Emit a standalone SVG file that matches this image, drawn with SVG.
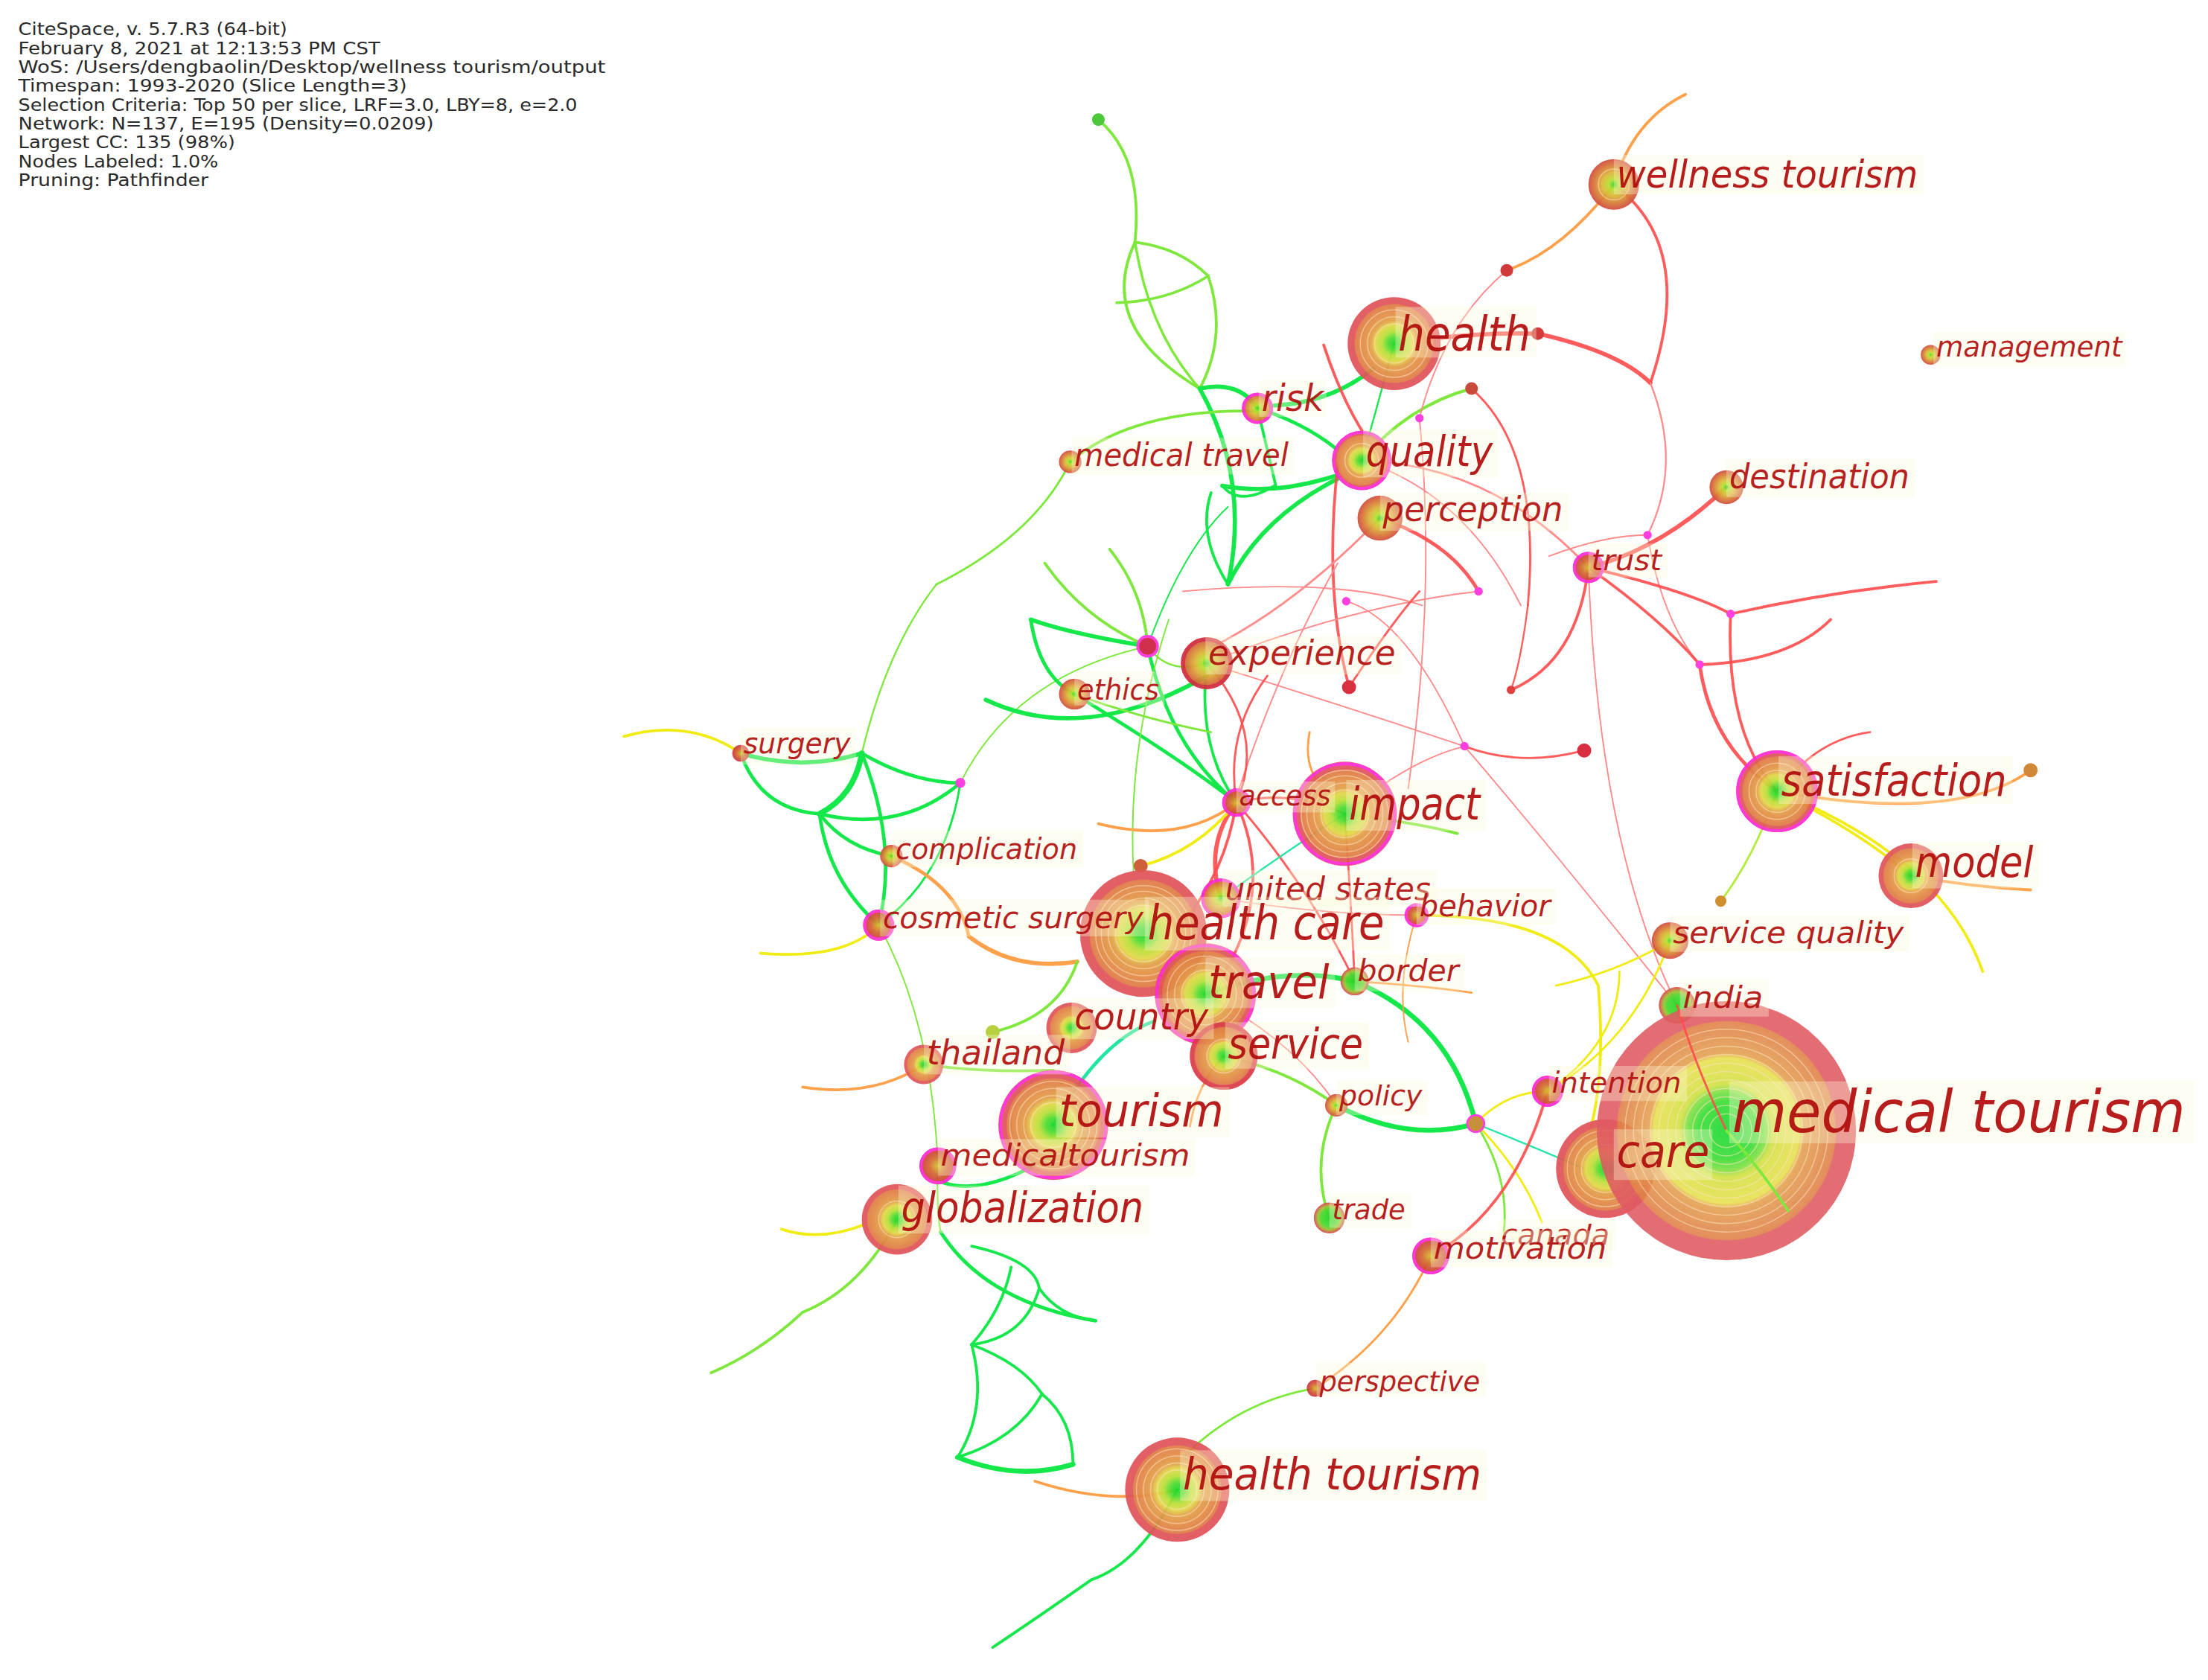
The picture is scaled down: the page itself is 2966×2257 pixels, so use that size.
<svg xmlns="http://www.w3.org/2000/svg" width="2966" height="2257" viewBox="0 0 2966 2257">
<style>
.hd{font-family:"DejaVu Sans Condensed","DejaVu Sans",sans-serif;font-size:12.5px;fill:#2a2a2a}
.lb{font-family:"DejaVu Sans","Liberation Sans",sans-serif;font-style:italic;fill:#b00c0c;fill-opacity:.93}
.bx{fill:#fbf8d6;fill-opacity:.35}
.e{fill:none;stroke-linecap:round}
.g{stroke:#14e84a}.lg{stroke:#7ee83c}.yg{stroke:#b4ec40}.y{stroke:#f0ec14}.o{stroke:#ffa04a}.r{stroke:#ff4b4b;stroke-opacity:.9}.p{stroke:#ff8c8c}.t{stroke:#22e6a0}
.ring{fill:none;stroke:#ffe2b8;stroke-opacity:.55;stroke-width:.8}
.mg{fill:none;stroke:#ff2ad4;stroke-width:2.2}
.nd{opacity:.93}
</style>
<defs>
<radialGradient id="gBig"><stop offset="0" stop-color="#1ed82a"/><stop offset=".13" stop-color="#4edc30"/><stop offset=".26" stop-color="#b8e038"/><stop offset=".4" stop-color="#e2d848"/><stop offset=".5" stop-color="#e4a048"/><stop offset=".84" stop-color="#e07a46"/><stop offset=".86" stop-color="#e0555a"/><stop offset="1" stop-color="#e0555a"/></radialGradient>
<radialGradient id="gMT"><stop offset="0" stop-color="#16d82e"/><stop offset=".22" stop-color="#34dc30"/><stop offset=".31" stop-color="#80e040"/><stop offset=".36" stop-color="#d2e040"/><stop offset=".56" stop-color="#e8e050"/><stop offset=".6" stop-color="#e4a050"/><stop offset=".84" stop-color="#e08048"/><stop offset=".85" stop-color="#e05a62"/><stop offset="1" stop-color="#e05a62"/></radialGradient>
<radialGradient id="gOr"><stop offset="0" stop-color="#40d830"/><stop offset=".2" stop-color="#b8e030"/><stop offset=".45" stop-color="#dcb838"/><stop offset=".75" stop-color="#d87a36"/><stop offset="1" stop-color="#d24a40"/></radialGradient>
<radialGradient id="gGr"><stop offset="0" stop-color="#20d820"/><stop offset=".55" stop-color="#48d830"/><stop offset=".75" stop-color="#a0c030"/><stop offset="1" stop-color="#e04050"/></radialGradient>
<radialGradient id="gRd"><stop offset="0" stop-color="#d8c030"/><stop offset=".45" stop-color="#d46a30"/><stop offset="1" stop-color="#cc3040"/></radialGradient>
</defs>
<rect width="2966" height="2257" fill="#fff"/>
<g transform="scale(1.8916)">
<g id="header">
<text class="hd" x="13" y="25" textLength="191" lengthAdjust="spacingAndGlyphs">CiteSpace, v. 5.7.R3 (64-bit)</text>
<text class="hd" x="13" y="38.4" textLength="257" lengthAdjust="spacingAndGlyphs">February 8, 2021 at 12:13:53 PM CST</text>
<text class="hd" x="13" y="51.8" textLength="417" lengthAdjust="spacingAndGlyphs">WoS: /Users/dengbaolin/Desktop/wellness tourism/output</text>
<text class="hd" x="13" y="65.2" textLength="276" lengthAdjust="spacingAndGlyphs">Timespan: 1993-2020 (Slice Length=3)</text>
<text class="hd" x="13" y="78.6" textLength="397" lengthAdjust="spacingAndGlyphs">Selection Criteria: Top 50 per slice, LRF=3.0, LBY=8, e=2.0</text>
<text class="hd" x="13" y="92" textLength="295" lengthAdjust="spacingAndGlyphs">Network: N=137, E=195 (Density=0.0209)</text>
<text class="hd" x="13" y="105.4" textLength="154" lengthAdjust="spacingAndGlyphs">Largest CC: 135 (98%)</text>
<text class="hd" x="13" y="118.8" textLength="142" lengthAdjust="spacingAndGlyphs">Nodes Labeled: 1.0%</text>
<text class="hd" x="13" y="132.2" textLength="135" lengthAdjust="spacingAndGlyphs">Pruning: Pathfinder</text>
</g>
<g id="edges">
<path class="e lg" stroke-width="2" d="M780,85 Q812,112 806,172"/>
<path class="e lg" stroke-width="2" d="M806,172 Q838,176 858,196"/>
<path class="e lg" stroke-width="2" d="M806,172 Q778,232 852,276"/>
<path class="e lg" stroke-width="1.8" d="M806,172 Q816,236 852,276"/>
<path class="e lg" stroke-width="2" d="M858,196 Q872,238 852,276"/>
<path class="e lg" stroke-width="2" d="M793,215 Q830,214 858,196"/>
<path class="e g" stroke-width="3" d="M975,262 Q945,286 905,288"/>
<path class="e g" stroke-width="3" d="M852,276 Q880,270 893,290"/>
<path class="e g" stroke-width="2.5" d="M893,290 Q925,300 948,318"/>
<path class="e g" stroke-width="3" d="M948,338 Q905,352 868,345"/>
<path class="e g" stroke-width="2" d="M868,345 Q880,360 905,345"/>
<path class="e g" stroke-width="3" d="M852,276 Q888,340 872,415"/>
<path class="e g" stroke-width="3" d="M950,340 Q895,368 872,415"/>
<path class="e g" stroke-width="2" d="M893,290 Q900,320 906,345"/>
<path class="e g" stroke-width="2" d="M860,350 Q850,380 872,415"/>
<path class="e lg" stroke-width="2" d="M760,328 Q805,290 893,292"/>
<path class="e lg" stroke-width="2.2" d="M967,327 Q1000,288 1045,276"/>
<path class="e g" stroke-width="1.2" d="M990,244 Q975,300 967,327"/>
<path class="e lg" stroke-width="1.5" d="M760,328 Q735,380 665,415"/>
<path class="e lg" stroke-width="1.2" d="M665,415 Q630,460 612,535"/>
<path class="e y" stroke-width="2" d="M443,523 Q490,510 526,535"/>
<path class="e g" stroke-width="3" d="M526,535 Q570,548 612,535"/>
<path class="e g" stroke-width="2.5" d="M526,535 Q540,575 582,578"/>
<path class="e g" stroke-width="4" d="M612,535 Q607,565 582,578"/>
<path class="e g" stroke-width="2.5" d="M612,535 Q648,556 682,556"/>
<path class="e g" stroke-width="2.5" d="M582,578 Q640,592 682,556"/>
<path class="e g" stroke-width="2.5" d="M612,535 Q638,600 624,657"/>
<path class="e g" stroke-width="2.5" d="M582,578 Q600,602 633,608"/>
<path class="e g" stroke-width="2.5" d="M582,578 Q588,625 624,657"/>
<path class="e g" stroke-width="1.5" d="M682,556 Q672,622 624,657"/>
<path class="e lg" stroke-width="1" d="M682,556 Q720,480 815,459"/>
<path class="e y" stroke-width="2" d="M624,657 Q600,682 540,677"/>
<path class="e lg" stroke-width="1" d="M624,657 Q662,725 666,828"/>
<path class="e o" stroke-width="2.5" d="M633,608 Q680,628 688,665"/>
<path class="e o" stroke-width="3" d="M688,665 Q720,690 765,683"/>
<path class="e lg" stroke-width="2" d="M765,683 Q752,722 705,733"/>
<path class="e lg" stroke-width="2" d="M742,400 Q770,440 815,459"/>
<path class="e lg" stroke-width="2" d="M788,390 Q812,420 815,459"/>
<path class="e g" stroke-width="3" d="M815,459 Q760,450 732,440"/>
<path class="e g" stroke-width="2.5" d="M732,440 Q738,480 763,493"/>
<path class="e g" stroke-width="3" d="M700,497 Q770,530 857,480"/>
<path class="e g" stroke-width="2.5" d="M763,493 Q840,540 878,570"/>
<path class="e g" stroke-width="2.5" d="M815,459 Q830,530 878,570"/>
<path class="e g" stroke-width="2" d="M857,471 Q850,530 878,570"/>
<path class="e lg" stroke-width="1.2" d="M815,459 Q830,480 857,471"/>
<path class="e lg" stroke-width="1" d="M830,440 Q800,530 805,620"/>
<path class="e g" stroke-width="1" d="M815,459 Q840,390 872,360"/>
<path class="e lg" stroke-width="1.5" d="M763,493 Q810,510 860,520"/>
<path class="e r" stroke-width="3" d="M1022,240 Q1060,236 1092,237"/>
<path class="e r" stroke-width="3" d="M1092,237 Q1150,250 1172,272"/>
<path class="e r" stroke-width="2" d="M1146,131 Q1205,175 1172,272"/>
<path class="e p" stroke-width="1.2" d="M1172,272 Q1195,330 1170,380"/>
<path class="e p" stroke-width="1" d="M1170,380 Q1180,440 1207,472"/>
<path class="e o" stroke-width="2" d="M1146,131 Q1160,85 1197,67"/>
<path class="e o" stroke-width="2" d="M1146,131 Q1110,178 1070,192"/>
<path class="e p" stroke-width="1" d="M1070,192 Q1025,230 1008,297"/>
<path class="e p" stroke-width="1" d="M1008,297 Q1020,420 1000,560"/>
<path class="e r" stroke-width="1.5" d="M1045,276 Q1095,320 1085,430"/>
<path class="e r" stroke-width="1.2" d="M1085,430 Q1080,470 1073,490"/>
<path class="e r" stroke-width="2" d="M940,245 Q958,300 985,330"/>
<path class="e r" stroke-width="2" d="M950,330 Q940,420 958,488"/>
<path class="e p" stroke-width="1.5" d="M967,327 Q1060,330 1128,403"/>
<path class="e p" stroke-width="1" d="M967,327 Q1040,350 1080,430"/>
<path class="e r" stroke-width="2.5" d="M980,368 Q1030,385 1050,420"/>
<path class="e p" stroke-width="1.5" d="M980,368 Q920,430 860,460"/>
<path class="e p" stroke-width="1" d="M950,400 Q910,470 880,560"/>
<path class="e r" stroke-width="1.5" d="M857,471 Q900,520 878,570"/>
<path class="e p" stroke-width="1" d="M857,471 Q960,430 1050,420"/>
<path class="e p" stroke-width="1" d="M857,471 Q950,500 1040,530"/>
<path class="e p" stroke-width="1" d="M840,420 Q950,410 1010,430"/>
<path class="e r" stroke-width="1.5" d="M958,488 Q990,440 1008,420"/>
<path class="e p" stroke-width="1" d="M956,427 Q1000,440 1040,530"/>
<path class="e r" stroke-width="3" d="M1128,403 Q1180,390 1226,346"/>
<path class="e p" stroke-width="1" d="M1100,395 Q1140,380 1170,380"/>
<path class="e r" stroke-width="2" d="M1128,403 Q1200,420 1229,436"/>
<path class="e r" stroke-width="2" d="M1128,403 Q1180,440 1207,472"/>
<path class="e r" stroke-width="2" d="M1229,436 Q1300,420 1375,413"/>
<path class="e r" stroke-width="2" d="M1207,472 Q1270,470 1300,440"/>
<path class="e r" stroke-width="2.5" d="M1207,472 Q1215,530 1262,562"/>
<path class="e r" stroke-width="2" d="M1229,436 Q1225,520 1262,562"/>
<path class="e r" stroke-width="2" d="M1128,403 Q1120,470 1073,490"/>
<path class="e r" stroke-width="1.5" d="M1040,530 Q1080,545 1125,533"/>
<path class="e p" stroke-width="1" d="M1040,530 Q1100,600 1191,714"/>
<path class="e p" stroke-width="1" d="M1128,403 Q1135,600 1191,714"/>
<path class="e r" stroke-width="1.5" d="M1262,562 Q1290,525 1328,520"/>
<path class="e o" stroke-width="2" d="M1262,562 Q1390,585 1442,547"/>
<path class="e y" stroke-width="2" d="M1262,562 Q1320,590 1357,622"/>
<path class="e y" stroke-width="2" d="M1262,562 Q1380,610 1408,690"/>
<path class="e o" stroke-width="2" d="M1357,622 Q1400,630 1442,632"/>
<path class="e yg" stroke-width="1.5" d="M1262,562 Q1245,610 1222,640"/>
<path class="e y" stroke-width="1.5" d="M1186,668 Q1150,690 1105,700"/>
<path class="e y" stroke-width="1.5" d="M1150,690 Q1150,740 1099,775"/>
<path class="e y" stroke-width="2" d="M1006,650 Q1110,650 1135,700 Q1140,760 1130,800"/>
<path class="e y" stroke-width="1.5" d="M1186,668 Q1160,740 1099,775"/>
<path class="e y" stroke-width="1.5" d="M1048,798 Q1070,775 1099,775"/>
<path class="e y" stroke-width="1.5" d="M1048,798 Q1080,830 1095,868"/>
<path class="e g" stroke-width="3.5" d="M856,706 Q915,685 962,697"/>
<path class="e g" stroke-width="3.5" d="M962,697 Q1030,725 1048,798"/>
<path class="e g" stroke-width="3.5" d="M949,785 Q1000,812 1048,798"/>
<path class="e lg" stroke-width="2" d="M869,750 Q915,760 949,785"/>
<path class="e lg" stroke-width="2" d="M949,785 Q930,825 944,865"/>
<path class="e lg" stroke-width="1.5" d="M1048,798 Q1072,835 1068,875"/>
<path class="e t" stroke-width="1.2" d="M1048,798 Q1090,815 1125,830"/>
<path class="e r" stroke-width="2" d="M1099,775 Q1075,860 1016,892"/>
<path class="e o" stroke-width="1.5" d="M1016,892 Q990,950 934,986"/>
<path class="e lg" stroke-width="1.5" d="M934,986 Q880,995 840,1035"/>
<path class="e o" stroke-width="2" d="M836,1058 Q790,1070 735,1052"/>
<path class="e g" stroke-width="2" d="M836,1058 Q810,1110 775,1122 Q735,1150 705,1170"/>
<path class="e o" stroke-width="1.5" d="M962,697 Q1010,700 1045,705"/>
<path class="e o" stroke-width="1" d="M1006,650 Q990,700 1000,740"/>
<path class="e p" stroke-width="1" d="M856,706 Q920,740 949,785"/>
<path class="e r" stroke-width="3" d="M878,570 Q855,600 867,638"/>
<path class="e r" stroke-width="2" d="M878,570 Q870,620 840,655"/>
<path class="e r" stroke-width="2" d="M878,570 Q905,630 870,690"/>
<path class="e r" stroke-width="1.5" d="M878,570 Q930,630 962,697"/>
<path class="e r" stroke-width="1.5" d="M878,570 Q915,560 955,578"/>
<path class="e o" stroke-width="2" d="M780,585 Q840,600 878,570"/>
<path class="e y" stroke-width="2" d="M878,570 Q850,605 810,615"/>
<path class="e p" stroke-width="1" d="M867,638 Q940,650 1006,650"/>
<path class="e p" stroke-width="1" d="M955,578 Q1000,540 1040,530"/>
<path class="e lg" stroke-width="2" d="M955,578 Q1010,585 1035,592"/>
<path class="e r" stroke-width="1.5" d="M955,578 Q960,650 962,697"/>
<path class="e t" stroke-width="1.2" d="M867,638 Q920,600 955,578"/>
<path class="e r" stroke-width="1.5" d="M900,480 Q870,520 878,570"/>
<path class="e o" stroke-width="1.5" d="M930,520 Q925,545 940,560"/>
<path class="e t" stroke-width="2.5" d="M748,799 Q780,740 820,725"/>
<path class="e lg" stroke-width="2" d="M656,756 Q700,762 748,760"/>
<path class="e o" stroke-width="2" d="M656,756 Q620,780 570,772"/>
<path class="e g" stroke-width="2.5" d="M748,820 Q700,850 670,840"/>
<path class="e o" stroke-width="1.5" d="M869,750 Q850,770 845,800"/>
<path class="e y" stroke-width="2" d="M613,870 Q582,882 555,873"/>
<path class="e lg" stroke-width="2" d="M637,866 Q612,915 570,932 Q540,960 505,975"/>
<path class="e g" stroke-width="2.5" d="M668,875 Q700,925 778,938"/>
<path class="e g" stroke-width="2" d="M690,885 Q735,895 738,915"/>
<path class="e g" stroke-width="2" d="M738,915 Q728,950 690,955"/>
<path class="e g" stroke-width="2" d="M738,915 Q752,935 778,938"/>
<path class="e g" stroke-width="2" d="M690,955 Q702,1000 680,1035"/>
<path class="e g" stroke-width="2" d="M690,955 Q725,968 740,990"/>
<path class="e g" stroke-width="2" d="M740,990 Q762,1008 762,1040"/>
<path class="e g" stroke-width="2" d="M740,990 Q722,1022 680,1035"/>
<path class="e g" stroke-width="3.5" d="M680,1035 Q722,1052 762,1040"/>
<path class="e g" stroke-width="2" d="M690,955 Q712,930 718,900"/>
<path class="e lg" stroke-width="1.2" d="M666,828 Q665,860 668,875"/>
</g>
<g id="dots">
<circle cx="780" cy="85" r="4.5" fill="#4cc83a"/>
<circle cx="1070" cy="192" r="4.5" fill="#d03a3a"/>
<circle cx="1092" cy="237" r="4.5" fill="#d03a3a"/>
<circle cx="1045" cy="276" r="4.5" fill="#c84a3a"/>
<circle cx="682" cy="556" r="3.5" fill="#ff40e0"/>
<circle cx="815" cy="459" r="7" fill="#d0304a" stroke="#ff40e0" stroke-width="2"/>
<circle cx="1170" cy="380" r="3" fill="#ff40e0"/>
<circle cx="1050" cy="420" r="3" fill="#ff40e0"/>
<circle cx="956" cy="427" r="3" fill="#ff40e0"/>
<circle cx="1008" cy="297" r="3" fill="#ff40e0"/>
<circle cx="1229" cy="436" r="3" fill="#ff40e0"/>
<circle cx="1207" cy="472" r="3" fill="#ff40e0"/>
<circle cx="1040" cy="530" r="3" fill="#ff40e0"/>
<circle cx="958" cy="488" r="5" fill="#d83040"/>
<circle cx="1125" cy="533" r="5" fill="#d83040"/>
<circle cx="1073" cy="490" r="3" fill="#e04040"/>
<circle cx="1048" cy="798" r="6" fill="#c8903a" stroke="#ff40e0" stroke-width="1.5"/>
<circle cx="705" cy="733" r="5" fill="#b8d040"/>
<circle cx="810" cy="615" r="5" fill="#d0603a"/>
<circle cx="1222" cy="640" r="4" fill="#d09030"/>
<circle cx="1442" cy="547" r="5" fill="#d08838"/>
</g>
<g id="nodes">
<g id="n-wellness-tourism" class="nd"><circle cx="1146" cy="131" r="18" fill="url(#gOr)"/><circle class="ring" cx="1146" cy="131" r="11"/></g>
<g id="n-health" class="nd"><circle cx="990" cy="244" r="33" fill="url(#gBig)"/><circle class="ring" cx="990" cy="244" r="14"/><circle class="ring" cx="990" cy="244" r="19"/><circle class="ring" cx="990" cy="244" r="24"/></g>
<g id="n-management" class="nd"><circle cx="1371" cy="252" r="7" fill="url(#gOr)"/></g>
<g id="n-risk" class="nd"><circle cx="893" cy="290" r="11" fill="url(#gOr)"/><circle class="mg" cx="893" cy="290" r="10" stroke="#e02060"/></g>
<g id="n-quality" class="nd"><circle cx="967" cy="327" r="21" fill="url(#gBig)"/><circle class="ring" cx="967" cy="327" r="12"/><circle class="mg" cx="967" cy="327" r="20"/></g>
<g id="n-medical-travel" class="nd"><circle cx="760" cy="328" r="8" fill="url(#gOr)"/></g>
<g id="n-destination" class="nd"><circle cx="1226" cy="346" r="12" fill="url(#gOr)"/></g>
<g id="n-perception" class="nd"><circle cx="980" cy="368" r="16" fill="url(#gOr)"/></g>
<g id="n-trust" class="nd"><circle cx="1128" cy="403" r="11" fill="url(#gRd)"/><circle class="mg" cx="1128" cy="403" r="10"/></g>
<g id="n-experience" class="nd"><circle cx="857" cy="471" r="18" fill="url(#gOr)"/><circle cx="857" cy="471" r="17" fill="none" stroke="#d02c3c" stroke-width="3"/></g>
<g id="n-ethics" class="nd"><circle cx="763" cy="493" r="11" fill="url(#gOr)"/></g>
<g id="n-surgery" class="nd"><circle cx="526" cy="535" r="6" fill="url(#gRd)"/></g>
<g id="n-satisfaction" class="nd"><circle cx="1262" cy="562" r="29" fill="url(#gBig)"/><circle class="ring" cx="1262" cy="562" r="15"/><circle class="ring" cx="1262" cy="562" r="20"/><circle class="mg" cx="1262" cy="562" r="28"/></g>
<g id="n-access" class="nd"><circle cx="878" cy="570" r="10" fill="url(#gRd)"/><circle class="mg" cx="878" cy="570" r="9"/></g>
<g id="n-impact" class="nd"><circle cx="955" cy="578" r="37" fill="url(#gBig)"/><circle class="ring" cx="955" cy="578" r="17"/><circle class="ring" cx="955" cy="578" r="22"/><circle class="ring" cx="955" cy="578" r="27"/><circle class="ring" cx="955" cy="578" r="31"/><circle class="mg" cx="955" cy="578" r="35.5" stroke-width="3"/></g>
<g id="n-complication" class="nd"><circle cx="633" cy="608" r="8" fill="url(#gOr)"/></g>
<g id="n-model" class="nd"><circle cx="1357" cy="622" r="23" fill="url(#gBig)"/><circle class="ring" cx="1357" cy="622" r="12"/></g>
<g id="n-united-states" class="nd"><circle cx="867" cy="638" r="14" fill="url(#gOr)"/><circle class="mg" cx="867" cy="638" r="13"/></g>
<g id="n-cosmetic-surgery" class="nd"><circle cx="624" cy="657" r="11" fill="url(#gRd)"/><circle class="mg" cx="624" cy="657" r="10"/></g>
<g id="n-health-care" class="nd"><circle cx="812" cy="663" r="45" fill="url(#gBig)"/><circle class="ring" cx="812" cy="663" r="20"/><circle class="ring" cx="812" cy="663" r="25"/><circle class="ring" cx="812" cy="663" r="30"/><circle class="ring" cx="812" cy="663" r="34"/></g>
<g id="n-behavior" class="nd"><circle cx="1006" cy="650" r="8" fill="url(#gRd)"/><circle class="mg" cx="1006" cy="650" r="7.5" stroke-width="1.5" stroke="#f0208a"/></g>
<g id="n-service-quality" class="nd"><circle cx="1186" cy="668" r="13" fill="url(#gOr)"/></g>
<g id="n-travel" class="nd"><circle cx="856" cy="706" r="36" fill="url(#gBig)"/><circle class="ring" cx="856" cy="706" r="17"/><circle class="ring" cx="856" cy="706" r="22"/><circle class="ring" cx="856" cy="706" r="27"/><circle class="mg" cx="856" cy="706" r="34.5" stroke-width="3"/></g>
<g id="n-border" class="nd"><circle cx="962" cy="697" r="10" fill="url(#gGr)"/></g>
<g id="n-india" class="nd"><circle cx="1191" cy="714" r="13" fill="url(#gGr)"/></g>
<g id="n-country" class="nd"><circle cx="761" cy="730" r="18" fill="url(#gBig)"/></g>
<g id="n-thailand" class="nd"><circle cx="656" cy="756" r="14" fill="url(#gBig)"/></g>
<g id="n-service" class="nd"><circle cx="869" cy="750" r="24" fill="url(#gBig)"/><circle class="ring" cx="869" cy="750" r="12"/><circle cx="869" cy="750" r="22.5" fill="none" stroke="#d83040" stroke-width="3" opacity=".7"/></g>
<g id="n-policy" class="nd"><circle cx="949" cy="785" r="8" fill="url(#gOr)"/></g>
<g id="n-intention" class="nd"><circle cx="1099" cy="775" r="11" fill="url(#gRd)"/><circle class="mg" cx="1099" cy="775" r="10" stroke="#f0208a" stroke-width="1.5"/></g>
<g id="n-tourism" class="nd"><circle cx="748" cy="799" r="39" fill="url(#gBig)"/><circle class="ring" cx="748" cy="799" r="16"/><circle class="ring" cx="748" cy="799" r="21"/><circle class="ring" cx="748" cy="799" r="26"/><circle class="ring" cx="748" cy="799" r="31"/><circle class="mg" cx="748" cy="799" r="37.5" stroke-width="2.5" stroke="#f02090"/></g>
<g id="n-medicaltourism" class="nd"><circle cx="666" cy="828" r="13" fill="url(#gRd)"/><circle class="mg" cx="666" cy="828" r="12" stroke="#e0205a" stroke-width="1.5"/></g>
<g id="n-care" class="nd"><circle cx="1140" cy="830" r="35" fill="url(#gBig)"/><circle class="ring" cx="1140" cy="830" r="17"/><circle class="ring" cx="1140" cy="830" r="22"/><circle class="ring" cx="1140" cy="830" r="27"/></g>
<g id="n-medical-tourism" class="nd"><circle cx="1226" cy="803" r="92" fill="url(#gMT)" opacity=".95"/><circle class="ring" cx="1226" cy="803" r="12"/><circle class="ring" cx="1226" cy="803" r="18"/><circle class="ring" cx="1226" cy="803" r="24"/><circle class="ring" cx="1226" cy="803" r="30"/><circle class="ring" cx="1226" cy="803" r="36"/><circle class="ring" cx="1226" cy="803" r="42"/><circle class="ring" cx="1226" cy="803" r="48"/><circle class="ring" cx="1226" cy="803" r="54"/><circle class="ring" cx="1226" cy="803" r="60"/><circle class="ring" cx="1226" cy="803" r="66"/><circle class="ring" cx="1226" cy="803" r="72"/></g>
<g id="n-globalization" class="nd"><circle cx="637" cy="866" r="25" fill="url(#gBig)"/><circle class="ring" cx="637" cy="866" r="13"/></g>
<g id="n-trade" class="nd"><circle cx="944" cy="865" r="11" fill="url(#gGr)"/></g>
<g id="n-motivation" class="nd"><circle cx="1016" cy="892" r="13" fill="url(#gRd)"/><circle class="mg" cx="1016" cy="892" r="12" stroke="#f0207a" stroke-width="1.5"/></g>
<g id="n-perspective" class="nd"><circle cx="934" cy="986" r="6" fill="url(#gRd)"/></g>
<g id="n-health-tourism" class="nd"><circle cx="836" cy="1058" r="37" fill="url(#gBig)"/><circle class="ring" cx="836" cy="1058" r="14"/><circle class="ring" cx="836" cy="1058" r="19"/><circle class="ring" cx="836" cy="1058" r="24"/><circle class="ring" cx="836" cy="1058" r="29"/></g>
</g>
<g id="edges-over">
<path class="e r" stroke-width="1.5" d="M1191,714 Q1205,760 1226,803"/>
<path class="e lg" stroke-width="2" d="M1226,803 Q1250,830 1270,860"/>
</g>
<g id="labels">
<g id="l-wellness-tourism"><rect class="bx" x="1146" y="110" width="220" height="28"/><text class="lb" x="1148" y="133" font-size="27" textLength="214" lengthAdjust="spacingAndGlyphs">wellness tourism</text></g>
<g id="l-health"><rect class="bx" x="991" y="218" width="100" height="36"/><text class="lb" x="993" y="249" font-size="34" textLength="94" lengthAdjust="spacingAndGlyphs">health</text></g>
<g id="l-management"><rect class="bx" x="1373" y="236" width="136" height="24"/><text class="lb" x="1375" y="253" font-size="20" textLength="132" lengthAdjust="spacingAndGlyphs">management</text></g>
<g id="l-risk"><rect class="bx" x="894" y="270" width="48" height="26"/><text class="lb" x="896" y="292" font-size="26" textLength="44" lengthAdjust="spacingAndGlyphs">risk</text></g>
<g id="l-quality"><rect class="bx" x="968" y="305" width="96" height="34"/><text class="lb" x="970" y="331" font-size="30" textLength="90" lengthAdjust="spacingAndGlyphs">quality</text></g>
<g id="l-medical-travel"><rect class="bx" x="761" y="311" width="158" height="26"/><text class="lb" x="763" y="331" font-size="23" textLength="152" lengthAdjust="spacingAndGlyphs">medical travel</text></g>
<g id="l-destination"><rect class="bx" x="1226" y="326" width="134" height="27"/><text class="lb" x="1228" y="347" font-size="24" textLength="128" lengthAdjust="spacingAndGlyphs">destination</text></g>
<g id="l-perception"><rect class="bx" x="980" y="350" width="134" height="27"/><text class="lb" x="982" y="370" font-size="24" textLength="128" lengthAdjust="spacingAndGlyphs">perception</text></g>
<g id="l-trust"><rect class="bx" x="1128" y="386" width="56" height="24"/><text class="lb" x="1130" y="405" font-size="21" textLength="50" lengthAdjust="spacingAndGlyphs">trust</text></g>
<g id="l-experience"><rect class="bx" x="856" y="452" width="139" height="27"/><text class="lb" x="858" y="472" font-size="24" textLength="133" lengthAdjust="spacingAndGlyphs">experience</text></g>
<g id="l-ethics"><rect class="bx" x="763" y="477" width="64" height="24"/><text class="lb" x="765" y="497" font-size="21" textLength="58" lengthAdjust="spacingAndGlyphs">ethics</text></g>
<g id="l-surgery"><rect class="bx" x="526" y="517" width="82" height="26"/><text class="lb" x="528" y="535" font-size="21" textLength="76" lengthAdjust="spacingAndGlyphs">surgery</text></g>
<g id="l-satisfaction"><rect class="bx" x="1263" y="537" width="166" height="34"/><text class="lb" x="1265" y="565" font-size="31" textLength="160" lengthAdjust="spacingAndGlyphs">satisfaction</text></g>
<g id="l-access"><rect class="bx" x="878" y="555" width="70" height="22"/><text class="lb" x="880" y="572" font-size="21" textLength="65" lengthAdjust="spacingAndGlyphs">access</text></g>
<g id="l-impact"><rect class="bx" x="956" y="554" width="99" height="36"/><text class="lb" x="958" y="582" font-size="32" textLength="93" lengthAdjust="spacingAndGlyphs">impact</text></g>
<g id="l-complication"><rect class="bx" x="634" y="590" width="135" height="26"/><text class="lb" x="636" y="610" font-size="21" textLength="129" lengthAdjust="spacingAndGlyphs">complication</text></g>
<g id="l-model"><rect class="bx" x="1358" y="598" width="90" height="33"/><text class="lb" x="1360" y="623" font-size="30" textLength="84" lengthAdjust="spacingAndGlyphs">model</text></g>
<g id="l-united-states"><rect class="bx" x="868" y="618" width="152" height="26"/><text class="lb" x="870" y="639" font-size="23" textLength="146" lengthAdjust="spacingAndGlyphs">united states</text></g>
<g id="l-cosmetic-surgery"><rect class="bx" x="625" y="639" width="191" height="26"/><text class="lb" x="627" y="659" font-size="22" textLength="185" lengthAdjust="spacingAndGlyphs">cosmetic surgery</text></g>
<g id="l-health-care"><rect class="bx" x="813" y="637" width="174" height="38"/><text class="lb" x="815" y="667" font-size="34" textLength="168" lengthAdjust="spacingAndGlyphs">health care</text></g>
<g id="l-behavior"><rect class="bx" x="1006" y="631" width="99" height="26"/><text class="lb" x="1008" y="651" font-size="22" textLength="93" lengthAdjust="spacingAndGlyphs">behavior</text></g>
<g id="l-service-quality"><rect class="bx" x="1186" y="650" width="170" height="26"/><text class="lb" x="1188" y="670" font-size="22" textLength="164" lengthAdjust="spacingAndGlyphs">service quality</text></g>
<g id="l-travel"><rect class="bx" x="856" y="680" width="92" height="36"/><text class="lb" x="858" y="709" font-size="33" textLength="86" lengthAdjust="spacingAndGlyphs">travel</text></g>
<g id="l-border"><rect class="bx" x="962" y="678" width="78" height="26"/><text class="lb" x="964" y="697" font-size="22" textLength="72" lengthAdjust="spacingAndGlyphs">border</text></g>
<g id="l-india"><rect class="bx" x="1193" y="696" width="63" height="26"/><text class="lb" x="1195" y="716" font-size="22" textLength="57" lengthAdjust="spacingAndGlyphs">india</text></g>
<g id="l-country"><rect class="bx" x="761" y="709" width="101" height="29"/><text class="lb" x="763" y="731" font-size="26" textLength="95" lengthAdjust="spacingAndGlyphs">country</text></g>
<g id="l-thailand"><rect class="bx" x="656" y="735" width="104" height="28"/><text class="lb" x="658" y="756" font-size="24" textLength="98" lengthAdjust="spacingAndGlyphs">thailand</text></g>
<g id="l-service"><rect class="bx" x="870" y="726" width="102" height="33"/><text class="lb" x="872" y="752" font-size="30" textLength="96" lengthAdjust="spacingAndGlyphs">service</text></g>
<g id="l-policy"><rect class="bx" x="949" y="768" width="65" height="24"/><text class="lb" x="951" y="785" font-size="20" textLength="59" lengthAdjust="spacingAndGlyphs">policy</text></g>
<g id="l-intention"><rect class="bx" x="1100" y="757" width="98" height="25"/><text class="lb" x="1102" y="776" font-size="21" textLength="92" lengthAdjust="spacingAndGlyphs">intention</text></g>
<g id="l-tourism"><rect class="bx" x="750" y="772" width="123" height="36"/><text class="lb" x="752" y="800" font-size="32" textLength="117" lengthAdjust="spacingAndGlyphs">tourism</text></g>
<g id="l-medicaltourism"><rect class="bx" x="666" y="809" width="183" height="26"/><text class="lb" x="668" y="828" font-size="22" textLength="177" lengthAdjust="spacingAndGlyphs">medicaltourism</text></g>
<g id="l-care"><rect class="bx" x="1146" y="802" width="70" height="36"/><text class="lb" x="1148" y="829" font-size="32" textLength="66" lengthAdjust="spacingAndGlyphs">care</text></g>
<g id="l-medical-tourism"><rect class="bx" x="1228" y="768" width="330" height="44"/><text class="lb" x="1230" y="804" font-size="41" textLength="322" lengthAdjust="spacingAndGlyphs">medical tourism</text></g>
<g id="l-globalization"><rect class="bx" x="638" y="842" width="178" height="34"/><text class="lb" x="640" y="868" font-size="30" textLength="172" lengthAdjust="spacingAndGlyphs">globalization</text></g>
<g id="l-trade"><rect class="bx" x="944" y="848" width="58" height="24"/><text class="lb" x="946" y="866" font-size="20" textLength="52" lengthAdjust="spacingAndGlyphs">trade</text></g>
<g id="l-canada"><rect class="bx" x="1064" y="866" width="83" height="22"/><text class="lb" x="1066" y="884" font-size="20" textLength="77" lengthAdjust="spacingAndGlyphs">canada</text></g>
<g id="l-motivation"><rect class="bx" x="1016" y="874" width="129" height="26"/><text class="lb" x="1018" y="894" font-size="22" textLength="123" lengthAdjust="spacingAndGlyphs">motivation</text></g>
<g id="l-perspective"><rect class="bx" x="935" y="968" width="120" height="24"/><text class="lb" x="937" y="988" font-size="20" textLength="114" lengthAdjust="spacingAndGlyphs">perspective</text></g>
<g id="l-health-tourism"><rect class="bx" x="838" y="1030" width="218" height="36"/><text class="lb" x="840" y="1058" font-size="31" textLength="212" lengthAdjust="spacingAndGlyphs">health tourism</text></g>
</g>
</g>
</svg>
